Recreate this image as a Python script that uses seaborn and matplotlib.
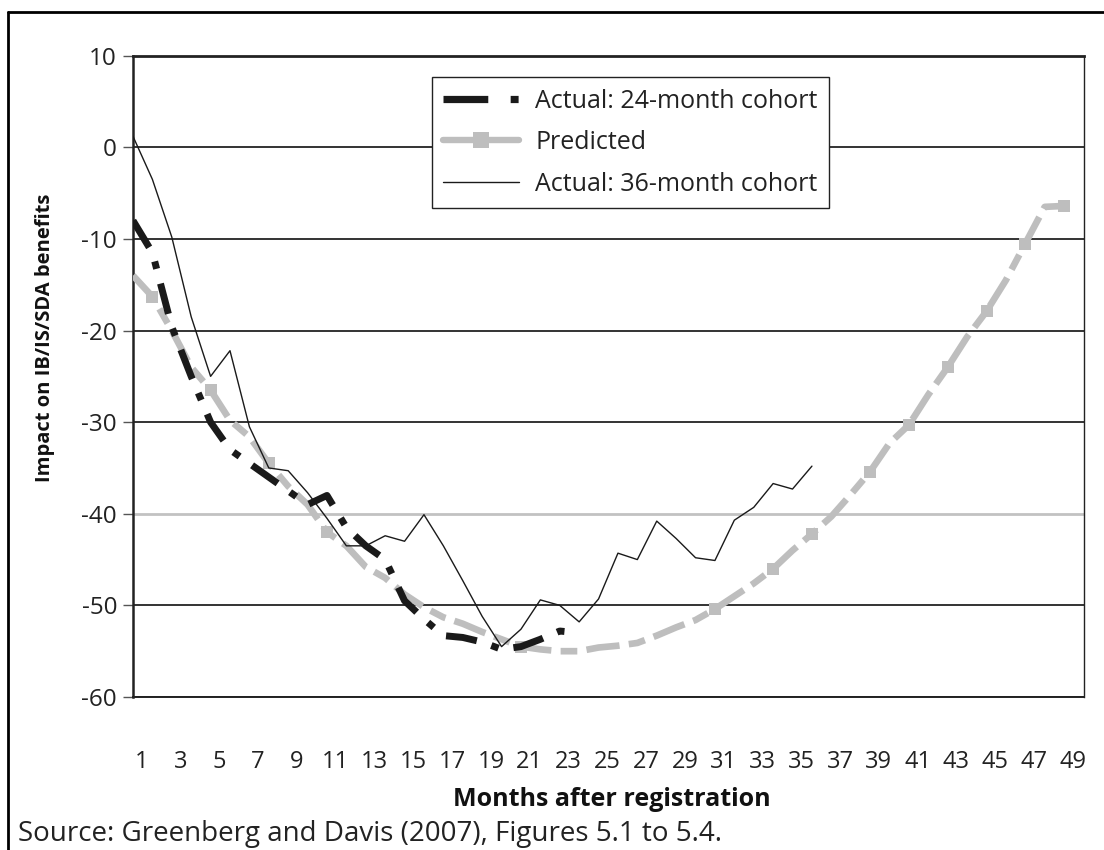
import matplotlib
matplotlib.use("Agg")
import matplotlib.pyplot as plt
from matplotlib.lines import Line2D
import numpy as np
import pandas as pd
import seaborn as sns

# ---------------- data ----------------
months_pred = list(range(1, 50))
predicted = [-14, -16.3, -20, -24, -26.5, -29.8, -31.6, -34.5, -37, -39,
             -42, -43.5, -45.8, -47, -48.8, -50.2, -51.3, -52, -52.9, -53.7,
             -54.5, -54.8, -55, -55, -54.6, -54.4, -54.1, -53.3, -52.4, -51.6,
             -50.4, -49, -47.6, -46, -44, -42.2, -40.3, -37.9, -35.4, -32.3,
             -30.3, -27, -24, -20.7, -17.9, -14.5, -10.5, -6.5, -6.4]

months_24 = list(range(1, 25))
actual_24 = [-8, -11.5, -19.6, -25, -30, -33, -34.5, -36, -37.5, -39,
             -38, -41.5, -43.5, -45, -49.5, -51.5, -53.3, -53.5, -54, -54.8,
             -54.5, -53.7, -52.8, -53]

months_36 = list(range(1, 37))
actual_36 = [1.2, -3.5, -9.8, -18.5, -25, -22.2, -30.5, -35, -35.3, -37.7,
             -40.5, -43.5, -43.5, -42.4, -43, -40.1, -43.5, -47.3, -51.2, -54.5,
             -52.6, -49.4, -50, -51.8, -49.3, -44.3, -45, -40.8, -42.7, -44.8,
             -45.1, -40.7, -39.3, -36.7, -37.3, -34.8]

x_tick_months = list(range(1, 50, 2))
x_tick_labels = [str(m) for m in x_tick_months]
y_ticks = [10, 0, -10, -20, -30, -40, -50, -60]

series_labels = ["Actual: 24-month cohort", "Predicted", "Actual: 36-month cohort"]
x_title = "Months after registration"
y_title = "Impact on IB/IS/SDA benefits"
source_text = "Source: Greenberg and Davis (2007), Figures 5.1 to 5.4."

# ---------------- style ----------------
sns.set_theme(style="white")
plt.rcParams["font.family"] = ["Open Sans", "DejaVu Sans"]

BLACK = "#1a1a1a"
GRAY = "#bebebe"
W, H = 1104, 850

fig = plt.figure(figsize=(W / 100, H / 100), dpi=100)
fig.patch.set_facecolor("white")
ax = fig.add_axes([133 / W, 1 - 697 / H, (1083.5 - 133) / W, (697 - 55.7) / H])

df_pred = pd.DataFrame({"month": months_pred, "impact": predicted})
df_24 = pd.DataFrame({"month": months_24, "impact": actual_24})
df_36 = pd.DataFrame({"month": months_36, "impact": actual_36})

sns.lineplot(data=df_pred, x="month", y="impact", ax=ax, color=GRAY, lw=4.8,
             marker="s", markersize=8.5, markeredgewidth=0, markerfacecolor=GRAY,
             markevery=[1, 4, 7, 10, 20, 30, 33, 35, 38, 40, 42, 44, 46, 48],
             zorder=3)
ln_pred = ax.lines[-1]
ln_pred.set_dashes([5, 1.4, 2.5, 1.4])
ln_pred.set_dash_capstyle("butt")

sns.lineplot(data=df_24, x="month", y="impact", ax=ax, color=BLACK, lw=5,
             zorder=4)
ln_24 = ax.lines[-1]
ln_24.set_dashes([4.5, 2.2, 1.1, 2.2])
ln_24.set_dash_capstyle("butt")

sns.lineplot(data=df_36, x="month", y="impact", ax=ax, color=BLACK, lw=1.0,
             zorder=5)

ax.set_xlim(1, 50)
ax.set_ylim(-60, 10)

# y axis
ax.set_yticks(y_ticks)
ax.set_yticklabels([str(v) for v in y_ticks])
ax.tick_params(axis="y", which="major", left=True, length=7.5, width=1.0,
               color="#555555", direction="out", pad=4, labelsize=17.5,
               labelcolor="#222222")
# x axis: labels centred between points (as in the reference)
ax.set_xticks([m + 0.45 for m in x_tick_months])
ax.set_xticklabels(x_tick_labels)
ax.tick_params(axis="x", which="major", bottom=False, length=0, pad=38,
               labelsize=17, labelcolor="#222222")

# grid
ax.set_axisbelow(True)
ax.yaxis.grid(True, color="#333333", lw=1.4)
ax.xaxis.grid(False)
for val, gl in zip(ax.get_yticks(), ax.get_ygridlines()):
    if val == -40:
        gl.set_color("#c2c2c2")
        gl.set_linewidth(2.0)

# spines
for side, lw in [("top", 2.0), ("left", 1.8), ("right", 1.0), ("bottom", 1.4)]:
    ax.spines[side].set_visible(True)
    ax.spines[side].set_color("#222222")
    ax.spines[side].set_linewidth(lw)

# labels
ax.set_xlabel(x_title, fontsize=18, fontweight="bold", color="#111111")
ax.xaxis.set_label_coords((612 - 133) / 951, (697 - 800) / 641.3)
ax.xaxis.label.set_va("center")
ax.set_ylabel(y_title, fontsize=14.5, fontweight="bold", color="#111111")
ax.yaxis.set_label_coords((45 - 133) / 951, (697 - 338) / 641.3)
ax.yaxis.label.set_va("center")

# legend
h24 = Line2D([], [], color=BLACK, lw=5.2, dashes=[6.2, 3.1, 1.1, 3.0],
             dash_capstyle="butt")
hpred = Line2D([], [], color=GRAY, lw=4.6, marker="s", markersize=11,
               markeredgewidth=0)
h36 = Line2D([], [], color=BLACK, lw=1.0)
leg = ax.legend([h24, hpred, h36], series_labels,
                loc="upper left", bbox_to_anchor=(431.5 / W, 1 - 77.3 / H),
                bbox_transform=fig.transFigure, borderaxespad=0,
                frameon=True, fancybox=False, framealpha=1, edgecolor="#222222",
                fontsize=18, handlelength=3.05, handletextpad=0.65,
                labelspacing=0.66, borderpad=0.45, numpoints=1)
leg.get_frame().set_linewidth(1.0)
leg.set_zorder(10)
for t in leg.get_texts():
    t.set_color("#222222")

# source note
fig.text(18 / W, 1 - 834 / H, source_text, fontsize=20, color="#222222",
         ha="left", va="center")

# outer frame (top and left edges visible)
fig.add_artist(Line2D([8 / W, 1.0], [1 - 12 / H, 1 - 12 / H],
                      transform=fig.transFigure, color="black", lw=2.0))
fig.add_artist(Line2D([8 / W, 8 / W], [0.0, 1 - 12 / H],
                      transform=fig.transFigure, color="black", lw=2.0))

fig.savefig("out.png", dpi=100, facecolor="white")
